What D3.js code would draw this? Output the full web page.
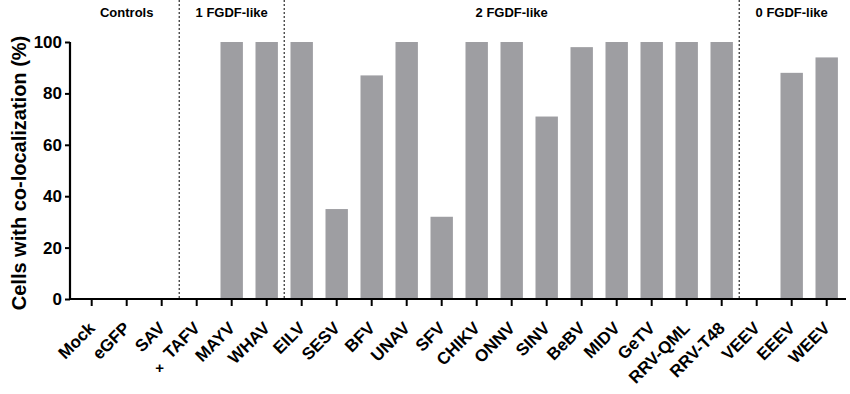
<!DOCTYPE html>
<html>
<head>
<meta charset="utf-8">
<script src="https://cdn.jsdelivr.net/npm/d3@7"></script>
<style>
  body { margin: 0; background: #fff; }
  text { font-family: "Liberation Sans", Arial, sans-serif; font-weight: bold; }
</style>
</head>
<body>
<svg width="850" height="394"></svg>
<script>
const viruses = ['Mock', 'eGFP', 'SAV', 'TAFV', 'MAYV', 'WHAV', 'EILV', 'SESV', 'BFV', 'UNAV', 'SFV',
  'CHIKV', 'ONNV', 'SINV', 'BeBV', 'MIDV', 'GeTV', 'RRV-QML', 'RRV-T48', 'VEEV', 'EEEV', 'WEEV'];
const coloc = [0, 0, 0, 0, 100, 100, 100, 35, 87, 100, 32, 100, 100, 71, 98, 100, 100, 100, 100, 0, 88, 94];
const yTicks = [0, 20, 40, 60, 80, 100];
const groups = ['Controls', '1 FGDF-like', '2 FGDF-like', '0 FGDF-like'];
const groupStart = ['Mock', 'TAFV', 'EILV', 'VEEV'];
const groupEnd = ['SAV', 'WHAV', 'RRV-T48', 'WEEV'];

const svg = d3.select('svg');
const y0 = 299, y1 = 42;

const x = d3.scaleBand()
  .domain(viruses)
  .range([74.2, 844.2])
  .paddingInner(0.36)
  .paddingOuter(0.18);

const y = d3.scaleLinear()
  .domain([0, 100])
  .range([y0, y1]);

// bars
svg.append('g').selectAll('rect')
  .data(viruses)
  .enter().append('rect')
  .attr('x', d => x(d))
  .attr('width', x.bandwidth())
  .attr('y', (d, i) => y(coloc[i]))
  .attr('height', (d, i) => y0 - y(coloc[i]))
  .attr('fill', '#9e9ea2');

// group dividers
const step = x.step();
const dividers = groupStart.slice(1).map(d => x(d) + x.bandwidth() / 2 - step / 2);
svg.append('g').selectAll('line')
  .data(dividers)
  .enter().append('line')
  .attr('x1', d => d).attr('x2', d => d)
  .attr('y1', 0).attr('y2', y0)
  .attr('stroke', '#000')
  .attr('stroke-width', 1)
  .attr('stroke-dasharray', '2,2');

// group labels
svg.append('g').selectAll('text')
  .data(groups)
  .enter().append('text')
  .attr('x', (d, i) => (x(groupStart[i]) + x(groupEnd[i]) + x.bandwidth()) / 2)
  .attr('y', 17)
  .attr('text-anchor', 'middle')
  .attr('font-size', 13)
  .text(d => d);

// y axis
const yAxis = svg.append('g')
  .attr('transform', 'translate(70,0)')
  .call(d3.axisLeft(y).tickValues(yTicks).tickSize(5).tickPadding(3));
yAxis.selectAll('text').attr('font-size', 17).attr('fill', '#000');
yAxis.selectAll('line').attr('stroke-width', 2);
yAxis.select('.domain').attr('stroke-width', 2.2).attr('d', `M0,${y1}V${y0}`);

// x axis
const xAxis = svg.append('g')
  .attr('transform', `translate(0,${y0})`)
  .call(d3.axisBottom(x).tickSize(7).tickSizeOuter(0));
xAxis.select('.domain').attr('stroke-width', 2.2).attr('d', 'M69,0H846');
xAxis.selectAll('line').attr('stroke-width', 2);
xAxis.selectAll('text')
  .attr('font-size', 17)
  .attr('fill', '#000')
  .attr('text-anchor', 'end')
  .attr('x', 0)
  .attr('y', 0)
  .attr('dy', '0.35em')
  .attr('transform', 'translate(0,26) rotate(-45)');

// "+" marker under TAFV label
svg.append('text')
  .attr('x', x('TAFV') + x.bandwidth() / 2 - 37)
  .attr('y', 373)
  .attr('text-anchor', 'middle')
  .attr('font-size', 15)
  .attr('font-weight', 'normal')
  .text('+');

// y title
svg.append('text')
  .attr('transform', 'translate(26,173) rotate(-90)')
  .attr('text-anchor', 'middle')
  .attr('font-size', 20)
  .text('Cells with co-localization (%)');
</script>
</body>
</html>
